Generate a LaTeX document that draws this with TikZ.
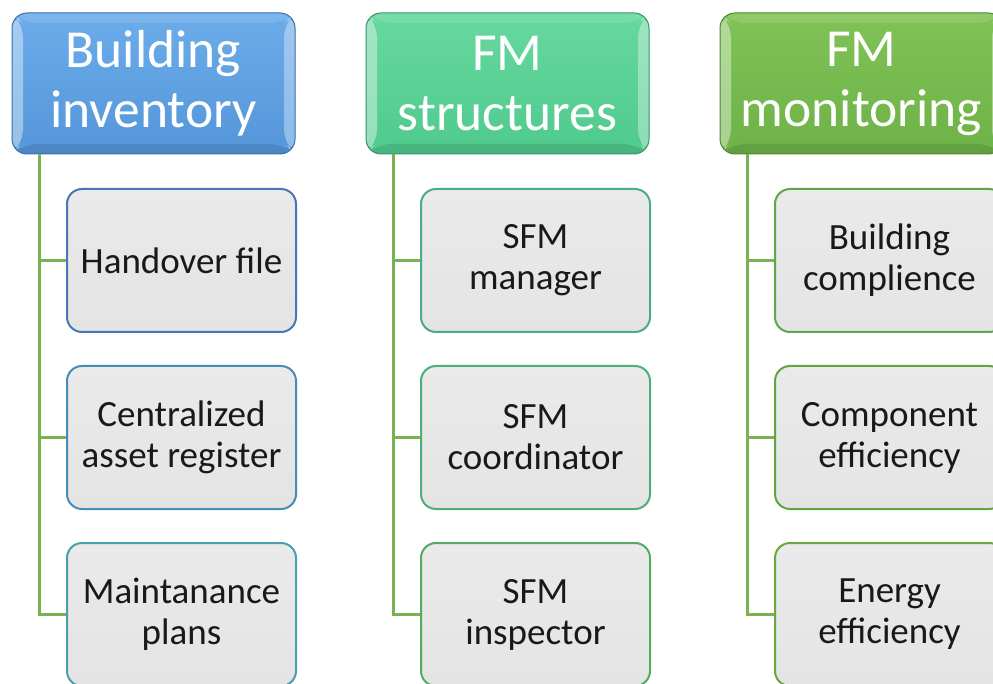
\documentclass[tikz,border=0pt]{standalone}
\usepackage{fontspec}
\setmainfont{Carlito}
\usetikzlibrary{calc}

\definecolor{conn}{RGB}{122,178,82}
\definecolor{hblue}{RGB}{84,150,218}
\definecolor{hblueT}{RGB}{108,172,234}
\definecolor{hblueB}{RGB}{58,112,168}
\definecolor{hmint}{RGB}{80,202,142}
\definecolor{hmintT}{RGB}{102,216,158}
\definecolor{hmintB}{RGB}{52,150,104}
\definecolor{holive}{RGB}{110,178,72}
\definecolor{holiveT}{RGB}{128,194,86}
\definecolor{holiveB}{RGB}{76,136,48}
\definecolor{cfill}{RGB}{228,228,228}
\definecolor{cfillT}{RGB}{234,234,234}
% child box outlines
\definecolor{bA}{RGB}{70,120,185}
\definecolor{bB}{RGB}{72,140,185}
\definecolor{bC}{RGB}{72,160,175}
\definecolor{bD}{RGB}{74,172,140}
\definecolor{bE}{RGB}{78,174,124}
\definecolor{bF}{RGB}{84,172,98}
\definecolor{bG}{RGB}{94,168,76}
\definecolor{bH}{RGB}{98,166,68}
\definecolor{bI}{RGB}{104,168,64}

\tikzset{
  x=1pt, y=-1pt,
  bevel/.style={path picture={
    \fill[white,opacity=0.4]
      (path picture bounding box.north west) --
      ([xshift=11pt,yshift=-10pt]path picture bounding box.north west) --
      ([xshift=11pt,yshift=10pt]path picture bounding box.south west) --
      (path picture bounding box.south west) -- cycle;
    \fill[white,opacity=0.35]
      (path picture bounding box.north east) --
      ([xshift=-11pt,yshift=-10pt]path picture bounding box.north east) --
      ([xshift=-11pt,yshift=10pt]path picture bounding box.south east) --
      (path picture bounding box.south east) -- cycle;
    \fill[white,opacity=0.12]
      (path picture bounding box.north west) --
      ([xshift=11pt,yshift=-10pt]path picture bounding box.north west) --
      ([xshift=-11pt,yshift=-10pt]path picture bounding box.north east) --
      (path picture bounding box.north east) -- cycle;
    \fill[black,opacity=0.1]
      (path picture bounding box.south west) --
      ([xshift=11pt,yshift=10pt]path picture bounding box.south west) --
      ([xshift=-11pt,yshift=10pt]path picture bounding box.south east) --
      (path picture bounding box.south east) -- cycle;
  }},
  header/.style={draw=#1B, line width=1pt, rounded corners=15pt,
    top color=#1T, bottom color=#1, bevel,
    minimum width=283pt, minimum height=141pt, align=center,
    text=white, font=\fontsize{53.5}{60}\selectfont, inner sep=0pt},
  child/.style={draw=#1, line width=2pt, rounded corners=15pt,
    top color=cfillT, bottom color=cfill,
    minimum width=229pt, minimum height=143pt, align=center,
    text=black!90, font=\fontsize{37}{41}\selectfont, inner sep=0pt},
  link/.style={draw=conn, line width=2.6pt}
}

\begin{document}
\begin{tikzpicture}
\clip (0,0) rectangle (993,684);
\fill[white] (0,0) rectangle (993,684);

% column headers
\node[header=hblue]  (h1) at (153.5,83.5) {Building\\inventory};
\node[header=hmint]  (h2) at (507.5,83.5) {FM\\structures};
\node[header=holive] (h3) at (861.5,83.5) {FM\\monitoring};

% column 1
\node[child=bA] (c11) at (181.5,260.5) {Handover file};
\node[child=bB] (c12) at (181.5,437.5) {Centralized\\asset register};
\node[child=bC] (c13) at (181.5,614.5) {Maintanance\\plans};

% column 2
\node[child=bD] (c21) at (535.5,260.5) {SFM\\manager};
\node[child=bE] (c22) at (535.5,437.5) {SFM\\coordinator};
\node[child=bF] (c23) at (535.5,614.5) {SFM\\inspector};

% column 3
\node[child=bG] (c31) at (889.5,260.5) {Building\\complience};
\node[child=bH] (c32) at (889.5,437.5) {Component\\efficiency};
\node[child=bI] (c33) at (889.5,614.5) {Energy\\efficiency};

% tree connectors
\foreach \h/\c in {h1/c11,h1/c12,h1/c13,h2/c21,h2/c22,h2/c23,h3/c31,h3/c32,h3/c33}
  \draw[link] ([xshift=28pt]\h.south west) |- (\c.west);
\end{tikzpicture}
\end{document}
